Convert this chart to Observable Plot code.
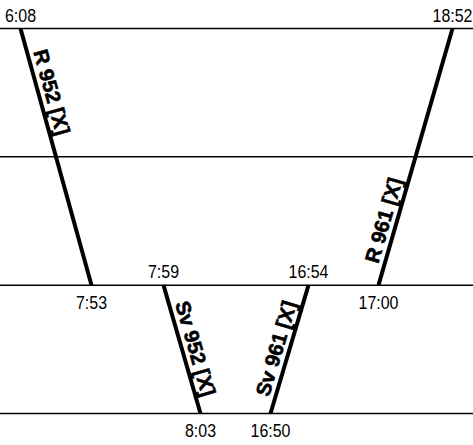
<!DOCTYPE html>
<html><head><meta charset="utf-8">
<script src="https://cdn.jsdelivr.net/npm/d3@7"></script>
<script src="https://cdn.jsdelivr.net/npm/@observablehq/plot@0.6"></script>
<style>html,body{margin:0;padding:0;background:#fff;}</style>
</head><body><div id="chart"></div>
<script>
// Timetable (Marey) diagram data
const trainNames = ["R 952 [X]", "Sv 952 [X]", "Sv 961 [X]", "R 961 [X]"];
const fromStation = [0, 2, 3, 2];
const toStation = [2, 3, 2, 0];
const departTimes = ["6:08", "7:59", "16:50", "17:00"];
const arriveTimes = ["7:53", "8:03", "16:54", "18:52"];
const stationLines = [0, 1, 2, 3];

const toMin = s => { const [h, m] = s.split(":").map(Number); return h * 60 + m; };
const trains = trainNames.map((name, i) => ({
  name, s0: fromStation[i], s1: toStation[i],
  t0: toMin(departTimes[i]), t1: toMin(arriveTimes[i]),
  dep: departTimes[i], arr: arriveTimes[i]
}));

// schematic (compressed) time axis: each timetable time is a break point
const allTimes = trains.flatMap(d => [d.t0, d.t1]).sort((a, b) => a - b);
const W = 473, H = 445;
const xRange = [20, 91, 163, 200, 270, 308, 378, 452];
const yRange = [28, 413];
const xs = d3.scaleLinear().domain(allTimes).range(xRange);
const ys = d3.scaleLinear().domain([0, 3]).range(yRange);

// time labels
const timeLabels = trains.flatMap(d => {
  const down = d.s1 > d.s0;
  return [
    {t: d.t0, s: d.s0, text: d.dep, above: down},
    {t: d.t1, s: d.s1, text: d.arr, above: !down}
  ];
});

const timeFont = "'Liberation Sans', Arial, sans-serif";
const boldFont = "'Liberation Sans', Arial, sans-serif";

const trainLabelMarks = trains.map(d => {
  const dir = Math.sign(d.s1 - d.s0);
  const f = 0.5 / Math.abs(d.s1 - d.s0);
  const lab = {name: d.name, s: d.s0 + 0.5 * dir, t: d.t0 + f * (d.t1 - d.t0)};
  const ang = Math.atan2(ys(d.s1) - ys(d.s0), xs(d.t1) - xs(d.t0));
  const off = 6, along = 3;
  return Plot.text([lab], {
    x: "t", y: "s", text: "name",
    rotate: ang * 180 / Math.PI,
    dx: off * Math.sin(ang) + along * Math.cos(ang) * dir,
    dy: -off * Math.cos(ang) + along * Math.abs(Math.sin(ang)),
    lineAnchor: "bottom", textAnchor: "middle",
    fontSize: 20.5, fontWeight: "bold", fontFamily: boldFont,
    fill: "black", stroke: "black", strokeWidth: 0.6
  });
});

const chart = Plot.plot({
  width: W, height: H,
  marginLeft: 0, marginRight: 0, marginTop: yRange[0], marginBottom: H - yRange[1],
  x: {type: "linear", domain: allTimes, range: xRange, axis: null},
  y: {type: "linear", domain: [0, 3], range: yRange, axis: null},
  style: {background: "white"},
  marks: [
    Plot.ruleY(stationLines, {stroke: "black", strokeWidth: 1.5}),
    Plot.link(trains, {x1: "t0", y1: "s0", x2: "t1", y2: "s1", stroke: "black", strokeWidth: 4}),
    Plot.text(timeLabels.filter(d => d.above), {x: "t", y: "s", text: "text", dy: -7, lineAnchor: "bottom", fontSize: 19, fontFamily: timeFont, fill: "black"}),
    Plot.text(timeLabels.filter(d => !d.above), {x: "t", y: "s", text: "text", dy: 10, lineAnchor: "top", fontSize: 19, fontFamily: timeFont, fill: "black"}),
    ...trainLabelMarks
  ]
});
document.getElementById("chart").appendChild(chart);

// condense the horizontal time labels (narrow lettering as in the original)
const timeSet = new Set(timeLabels.map(d => d.text));
d3.select(chart).selectAll("text").each(function() {
  if (!timeSet.has(this.textContent.trim())) return;
  const el = d3.select(this);
  const tr = el.attr("transform");
  if (tr) {
    el.attr("transform", tr + " scale(0.84,1)");
  } else {
    const x = +el.attr("x") || 0, y = +el.attr("y") || 0;
    el.attr("x", null).attr("y", null).attr("transform", `translate(${x},${y}) scale(0.84,1)`);
  }
});
</script>
</body></html>
